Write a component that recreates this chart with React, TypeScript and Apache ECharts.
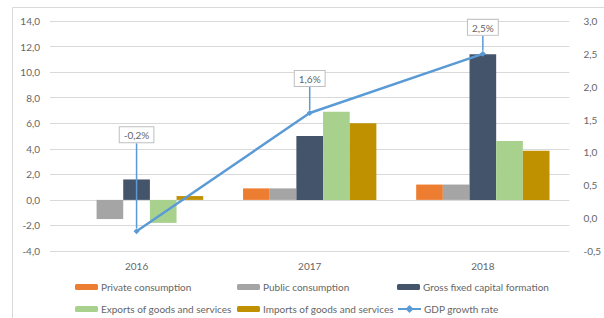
import React, { useEffect, useRef } from "react";
import * as echarts from "echarts";

const categories = ["2016", "2017", "2018"];
const privateConsumption = [0.0, 0.9, 1.2];
const publicConsumption = [-1.5, 0.9, 1.2];
const grossFixedCapital = [1.6, 5.0, 11.4];
const exportsGS = [-1.8, 6.9, 4.6];
const importsGS = [0.3, 6.0, 3.85];
const gdpGrowth = [-0.2, 1.6, 2.5];
const labelOffsets = [-97, -35, -27];

const FONT = "Lato";
const TEXT = "#666666";
const fmt = (v: number, d: number) => v.toFixed(d).replace(".", ",");

export default function App() {
  const ref = useRef<HTMLDivElement>(null);
  useEffect(() => {
    if (!ref.current) return;
    const chart = echarts.init(ref.current, undefined, { renderer: "svg" });
    const barNames = [
      "Private consumption",
      "Public consumption",
      "Gross fixed capital formation",
      "Exports of goods and services",
      "Imports of goods and services",
    ];
    const barData = [privateConsumption, publicConsumption, grossFixedCapital, exportsGS, importsGS];
    const barColors = ["#ED7D31", "#A5A5A5", "#44546A", "#A9D18E", "#BF9000"];
    const legendPos = [
      [75, 282],
      [237, 282],
      [397, 282],
      [75, 304],
      [237, 304],
      [397, 304],
    ];
    const allNames = [...barNames, "GDP growth rate"];
    chart.setOption({
      animation: false,
      textStyle: { fontFamily: FONT },
      graphic: [
        {
          type: "rect",
          shape: { x: 12.5, y: 7.5, width: 700, height: 400 },
          style: { fill: "none", stroke: "#D9D9D9", lineWidth: 1 },
          silent: true,
        },
      ],
      legend: allNames.map((n, i) => ({
        data: [n],
        left: legendPos[i][0],
        top: legendPos[i][1],
        padding: 0,
        itemWidth: 23,
        itemHeight: i === 5 ? 10 : 6,
        itemGap: 3,
        selectedMode: false,
        textStyle: { color: TEXT, fontSize: 10, fontFamily: FONT, padding: [0, 0, 0, -2] },
      })),
      grid: { left: 50, right: 27, top: 21, bottom: 67, containLabel: false },
      xAxis: {
        type: "category",
        data: categories,
        axisLine: { show: false },
        axisTick: { show: false },
        axisLabel: { color: TEXT, fontSize: 10, margin: 10, fontFamily: FONT },
      },
      yAxis: [
        {
          type: "value",
          min: -4,
          max: 14,
          interval: 2,
          axisLabel: {
            color: TEXT,
            fontSize: 10,
            margin: 10,
            fontFamily: FONT,
            formatter: (v: number) => fmt(v, 1),
          },
          axisLine: { show: false },
          axisTick: { show: false },
          splitLine: { lineStyle: { color: "#D9D9D9", width: 1 } },
        },
        {
          type: "value",
          min: -0.5,
          max: 3,
          interval: 0.5,
          alignTicks: false,
          position: "right",
          axisLabel: {
            color: TEXT,
            fontSize: 10,
            margin: 14,
            fontFamily: FONT,
            formatter: (v: number) => fmt(v, 1),
          },
          axisLine: { show: false },
          axisTick: { show: false },
          splitLine: { show: false },
        },
      ],
      series: [
        ...barNames.map((n, i) => ({
          name: n,
          type: "bar",
          data: barData[i],
          barGap: "0%",
          barCategoryGap: "23%",
          itemStyle: { color: barColors[i] },
          yAxisIndex: 0,
        })),
        {
          name: "GDP growth rate",
          type: "line",
          yAxisIndex: 1,
          data: gdpGrowth,
          symbol: "diamond",
          symbolSize: 6,
          lineStyle: { color: "#5B9BD5", width: 2.5 },
          itemStyle: { color: "#5B9BD5" },
          z: 5,
          label: {
            show: true,
            position: "top",
            distance: 0,
            formatter: (p: any) => fmt(p.value, 1) + "%",
            color: TEXT,
            fontSize: 10,
            fontFamily: FONT,
            backgroundColor: "#FFFFFF",
            borderColor: "#BFBFBF",
            borderWidth: 1,
            padding: [3, 4, 2, 4],
          },
          labelLine: { show: true, lineStyle: { color: "#5B9BD5", width: 1.5 } },
          labelLayout: (params: any) => ({ dy: labelOffsets[params.dataIndex] + 11 }),
        },
      ],
    });
    return () => chart.dispose();
  }, []);
  return (
    <div
      ref={ref}
      style={{ position: "absolute", left: 0, top: 0, width: 604, height: 318, background: "#fff" }}
    />
  );
}
